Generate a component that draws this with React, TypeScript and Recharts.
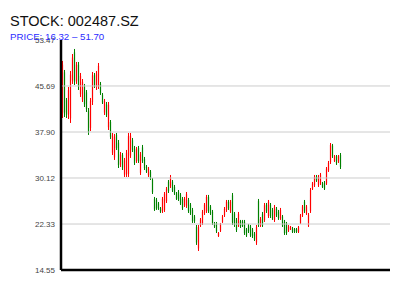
import { Bar, ComposedChart, ReferenceLine, XAxis, YAxis } from "recharts";

const title = "STOCK: 002487.SZ";
const subtitle = "PRICE: 16.32 – 51.70";

const yTicks = [14.55, 22.33, 30.12, 37.9, 45.69, 53.47];
const gridTicks = [22.33, 30.12, 37.9, 45.69];

const opens = [
  41.0, 48.0, 43.3, 40.9, 40.2, 46.6, 51.4, 46.5, 49.3, 44.3,
  43.4, 45.6, 44.6, 41.5, 38.6, 43.0, 47.5, 45.5, 45.7, 46.0,
  44.2, 41.2, 42.6, 38.7, 39.6, 34.4, 33.6, 37.4, 36.1, 32.4,
  34.0, 30.7, 30.7, 30.8, 33.9, 36.5, 35.1, 33.0, 35.2, 31.0,
  35.3, 33.3, 32.0, 30.6, 31.2, 29.8, 26.6, 26.4, 25.8, 25.0,
  24.5, 24.7, 26.2, 29.5, 28.7, 29.5, 28.6, 27.5, 27.8, 27.3,
  26.6, 25.5, 25.4, 26.4, 25.6, 24.7, 23.6, 21.8, 18.2, 22.1,
  22.5, 24.2, 24.5, 26.9, 25.3, 24.4, 22.5, 22.4, 20.3, 21.2,
  22.7, 23.8, 24.7, 26.1, 24.5, 27.2, 24.1, 23.0, 22.2, 22.8,
  22.8, 22.7, 21.4, 22.1, 21.9, 21.4, 20.7, 19.2, 26.2, 22.1,
  24.0, 23.0, 25.6, 23.7, 25.6, 24.7, 23.0, 24.9, 24.4, 23.3,
  23.6, 22.7, 22.4, 21.2, 21.4, 21.6, 21.5, 21.5, 21.0, 22.5,
  23.8, 26.1, 24.1, 22.1, 24.5, 28.3, 28.9, 30.4, 28.9, 29.2,
  29.2, 29.3, 29.2, 31.4, 32.8, 35.6, 33.0, 33.8, 32.9, 34.0,
];

const highs = [
  49.92, 48.4, 43.66, 45.52, 48.23, 51.1, 51.95, 49.75, 49.75, 47.89,
  46.87, 46.03, 45.01, 41.96, 43.66, 48.06, 47.89, 48.23, 49.58, 46.37,
  44.5, 43.49, 42.98, 42.98, 39.93, 37.74, 37.57, 37.74, 36.55, 34.52,
  34.35, 33.51, 34.86, 37.74, 37.74, 36.89, 35.54, 35.37, 35.54, 34.52,
  35.71, 33.68, 32.32, 31.98, 31.47, 30.12, 26.91, 26.74, 26.06, 25.21,
  26.91, 27.75, 28.6, 29.78, 30.63, 29.78, 28.94, 27.75, 28.09, 27.58,
  26.91, 26.91, 27.75, 26.74, 25.89, 25.05, 23.86, 22.17, 22.17, 23.35,
  24.71, 25.89, 27.25, 27.25, 25.55, 24.71, 22.68, 22.68, 20.98, 22.51,
  23.86, 25.21, 26.4, 26.4, 26.4, 27.58, 24.37, 23.35, 24.37, 23.02,
  23.02, 23.02, 21.66, 22.34, 22.17, 21.66, 20.98, 22.17, 26.57, 23.52,
  24.37, 25.89, 25.89, 26.4, 25.89, 25.05, 25.55, 25.21, 24.71, 25.05,
  23.86, 23.02, 22.68, 22.17, 22.0, 21.83, 21.66, 21.66, 22.0, 24.03,
  25.55, 26.4, 25.55, 24.2, 28.43, 29.45, 30.63, 30.63, 30.63, 30.97,
  29.45, 29.61, 31.98, 33.0, 36.04, 35.88, 34.01, 34.01, 34.01, 34.35,
];

const lows = [
  40.27, 40.44, 40.27, 40.1, 39.43, 46.03, 45.86, 46.03, 45.01, 43.83,
  42.98, 42.13, 41.29, 37.4, 38.07, 42.47, 45.35, 45.01, 45.18, 44.17,
  42.64, 40.78, 40.44, 38.24, 36.72, 34.01, 33.17, 34.86, 31.81, 31.98,
  31.47, 30.29, 30.29, 30.29, 33.51, 34.52, 32.32, 32.66, 32.66, 30.63,
  32.66, 31.47, 30.97, 30.29, 29.78, 27.41, 24.54, 24.71, 24.71, 24.2,
  24.2, 24.37, 25.89, 27.58, 28.43, 27.75, 27.25, 26.4, 26.23, 25.55,
  24.71, 25.21, 25.05, 24.2, 23.86, 22.51, 22.51, 18.79, 17.77, 21.83,
  22.17, 23.86, 24.2, 24.2, 23.86, 22.17, 21.66, 20.81, 20.14, 20.98,
  22.51, 23.52, 24.37, 24.71, 24.2, 22.17, 21.83, 20.98, 21.83, 21.66,
  21.83, 20.48, 20.14, 20.81, 20.14, 19.97, 19.46, 18.79, 21.83, 21.83,
  21.83, 22.68, 24.2, 23.35, 23.35, 23.02, 22.68, 23.52, 23.02, 23.02,
  21.83, 20.48, 20.48, 20.98, 21.32, 20.81, 20.81, 20.81, 20.81, 22.34,
  23.52, 24.2, 23.86, 21.83, 24.2, 28.09, 28.6, 29.45, 28.6, 28.94,
  28.43, 28.09, 28.94, 31.14, 32.49, 33.51, 32.83, 32.32, 32.66, 31.64,
];

const closes = [
  49.3, 41.2, 40.8, 45.0, 47.6, 50.5, 46.4, 49.3, 45.6, 47.4,
  46.4, 42.6, 41.8, 37.9, 43.1, 47.5, 45.8, 47.8, 49.1, 44.5,
  42.9, 43.1, 40.8, 42.5, 37.1, 37.3, 37.1, 35.2, 32.3, 34.1,
  31.9, 33.1, 34.4, 37.2, 37.3, 34.9, 32.7, 35.0, 33.0, 34.1,
  33.0, 31.8, 31.2, 31.7, 30.0, 27.7, 24.8, 25.0, 24.9, 24.4,
  26.6, 27.4, 28.3, 27.9, 30.3, 28.0, 27.5, 26.6, 26.5, 25.8,
  25.0, 26.6, 27.4, 24.5, 24.1, 22.8, 22.8, 19.2, 21.8, 23.1,
  24.4, 25.6, 26.9, 24.5, 24.1, 22.5, 21.9, 21.1, 20.8, 22.3,
  23.6, 24.9, 26.1, 25.0, 26.1, 22.6, 22.2, 21.3, 24.0, 21.9,
  22.0, 20.8, 20.4, 21.1, 20.4, 20.3, 19.7, 21.8, 22.2, 23.2,
  22.1, 25.5, 24.5, 26.1, 23.7, 23.3, 25.2, 23.8, 23.3, 24.7,
  22.1, 20.8, 20.8, 21.9, 21.9, 21.0, 21.0, 21.0, 21.8, 23.8,
  25.3, 24.5, 25.3, 23.9, 28.1, 29.2, 30.3, 29.7, 30.3, 30.7,
  28.6, 28.3, 31.7, 32.7, 35.7, 33.8, 33.8, 32.6, 33.8, 32.0,
];

const UP = "#ff0000";
const DOWN = "#008000";

const data = opens.map((open, i) => ({
  i,
  open,
  high: highs[i],
  low: lows[i],
  close: closes[i],
}));

// thin wick + slightly wider body, scaled from the bar's own low..high box
const Candle = (props: any) => {
  const { x, y, width, height, payload } = props;
  if (!payload || height == null) return null;
  const { open, close, high, low } = payload;
  const color = close >= open ? UP : DOWN;
  const k = height / (high - low || 1);
  const cx = Math.floor(x + width / 2) + 0.5;
  const top = y + (high - Math.max(open, close)) * k;
  const h = Math.max(Math.abs(close - open) * k, 1);
  return (
    <g>
      <line x1={cx} x2={cx} y1={y} y2={y + height} stroke={color} strokeWidth={1} />
      <rect x={cx - 0.6} y={top} width={1.2} height={h} fill={color} />
    </g>
  );
};

export default function App() {
  return (
    <div style={{ position: "absolute", left: 0, top: 0, width: 400, height: 300, background: "#fff" }}>
      <ComposedChart
        width={400}
        height={300}
        data={data}
        margin={{ top: 40, right: 10, bottom: 29, left: 0 }}
      >
        <XAxis
          type="number"
          dataKey="i"
          domain={[-1, 163.5]}
          tick={false}
          tickLine={false}
          height={1}
          axisLine={{ stroke: "#000", strokeWidth: 2.5 }}
        />
        <YAxis
          type="number"
          domain={[14.55, 53.47]}
          ticks={yTicks}
          width={61}
          tickSize={0}
          tickMargin={6}
          tickLine={false}
          tickFormatter={(v: number) => v.toFixed(2)}
          tick={{ fontSize: 8, fill: "#444", fontFamily: "Liberation Sans, Arial, sans-serif" }}
          axisLine={{ stroke: "#000", strokeWidth: 2.5 }}
        />
        {gridTicks.map((v) => (
          <ReferenceLine key={v} y={v} stroke="#cccccc" strokeWidth={1} />
        ))}
        <Bar
          dataKey={(d: any) => [d.low, d.high]}
          barSize={2}
          shape={Candle}
          isAnimationActive={false}
        />
      </ComposedChart>
      <svg
        width={400}
        height={300}
        style={{ position: "absolute", left: 0, top: 0, pointerEvents: "none" }}
      >
        <text x={10} y={25.5} fontSize={14.5} fill="#111" fontFamily="Liberation Sans, Arial, sans-serif">
          {title}
        </text>
        <text x={10} y={40} fontSize={9.7} fill="#2b2bff" fontFamily="Liberation Sans, Arial, sans-serif">
          {subtitle}
        </text>
      </svg>
    </div>
  );
}
